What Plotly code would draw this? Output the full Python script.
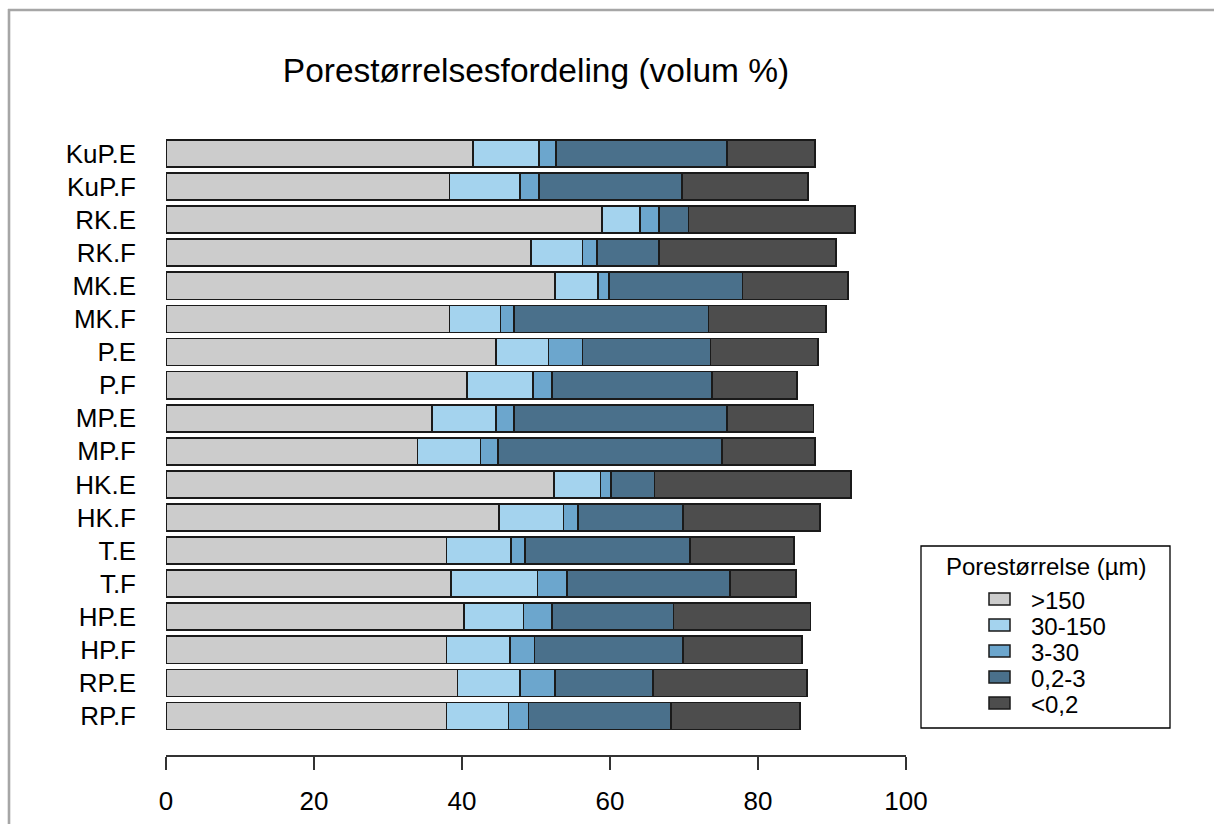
import plotly.graph_objects as go

# Sample plots, listed top to bottom
samples = ["KuP.E", "KuP.F", "RK.E", "RK.F", "MK.E", "MK.F", "P.E", "P.F", "MP.E",
           "MP.F", "HK.E", "HK.F", "T.E", "T.F", "HP.E", "HP.F", "RP.E", "RP.F"]

# Pore size classes (µm) and their fill colours
classes = [">150", "30-150", "3-30", "0,2-3", "<0,2"]
colors = ["#CCCCCC", "#A4D3EE", "#6CA6CD", "#4A708B", "#4D4D4D"]

# Volume % per pore size class
pore_gt150 = [41.5, 38.3, 58.9, 49.3, 52.6, 38.3, 44.6, 40.7, 35.9,
              34.0, 52.4, 45.0, 37.9, 38.5, 40.3, 37.9, 39.4, 37.9]
pore_30_150 = [8.9, 9.5, 5.2, 7.0, 5.8, 6.9, 7.1, 8.9, 8.7,
               8.5, 6.3, 8.7, 8.7, 11.7, 8.0, 8.6, 8.4, 8.4]
pore_3_30 = [2.3, 2.6, 2.5, 1.9, 1.5, 1.8, 4.6, 2.6, 2.4,
             2.4, 1.4, 2.0, 1.9, 4.0, 3.9, 3.3, 4.8, 2.7]
pore_02_3 = [23.1, 19.3, 4.0, 8.4, 18.0, 26.3, 17.3, 21.6, 28.8,
             30.2, 5.9, 14.2, 22.3, 22.0, 16.4, 20.1, 13.2, 19.2]
pore_lt02 = [11.9, 17.1, 22.5, 23.9, 14.3, 15.9, 14.5, 11.5, 11.7,
             12.6, 26.6, 18.5, 14.1, 8.9, 18.5, 16.0, 20.8, 17.5]

series = [pore_gt150, pore_30_150, pore_3_30, pore_02_3, pore_lt02]

x_ticks = [0, 20, 40, 60, 80, 100]

# Page geometry in pixels
W, H = 1214, 824
L, R, T, B = 166, 906, 120, 755


def px(xp):
    return (xp - L) / (R - L)


def py(yp):
    return (B - yp) / (B - T)


fig = go.Figure()
for name, vals, col in zip(classes, series, colors):
    fig.add_trace(go.Bar(
        y=samples, x=vals, name=name, orientation="h",
        marker=dict(color=col, line=dict(color="#1a1a1a", width=1.7)),
        showlegend=False,
    ))

shapes = []
annotations = []

# Legend box with title and swatches
shapes.append(dict(type="rect", xref="paper", yref="paper",
                   x0=px(921), x1=px(1170), y0=py(546), y1=py(728),
                   line=dict(color="#000000", width=1.3), fillcolor="white"))
annotations.append(dict(text="Porestørrelse (µm)", xref="paper", yref="paper",
                        x=px(1046), y=py(566), xanchor="center", yanchor="middle",
                        showarrow=False, font=dict(size=24, color="#000")))
for i, (name, col) in enumerate(zip(classes, colors)):
    yc = 599 + 26 * i
    shapes.append(dict(type="rect", xref="paper", yref="paper",
                       x0=px(989), x1=px(1010), y0=py(yc - 6), y1=py(yc + 6),
                       line=dict(color="#1a1a1a", width=1.5), fillcolor=col))
    annotations.append(dict(text=name, xref="paper", yref="paper",
                            x=px(1029), y=py(yc + 1), xanchor="left", yanchor="middle",
                            showarrow=False, font=dict(size=24, color="#000")))

# Grey frame lines along the top and left edge of the page
shapes.append(dict(type="line", xref="paper", yref="paper",
                   x0=px(8), x1=px(W + 5), y0=py(10), y1=py(10),
                   line=dict(color="#A6A6A6", width=2.6)))
shapes.append(dict(type="line", xref="paper", yref="paper",
                   x0=px(9), x1=px(9), y0=py(9), y1=py(H + 5),
                   line=dict(color="#A6A6A6", width=2.6)))

# Row i sits at pixel 153.5 + 33.09*i
row0, step = 153.5, 33.09
y_top = (T - row0) / step
y_bot = (B - row0) / step

fig.update_layout(
    width=W, height=H,
    margin=dict(l=L, r=W - R, t=T, b=H - B, autoexpand=False),
    barmode="stack", bargap=0.18,
    paper_bgcolor="white", plot_bgcolor="white",
    font=dict(family="Liberation Sans, Arial, sans-serif", size=24, color="#000"),
    title=dict(text="Porestørrelsesfordeling (volum %)", xref="paper", x=0.5,
               xanchor="center", yref="container", y=1 - 70 / H, yanchor="middle",
               font=dict(size=33.5, color="#000")),
    xaxis=dict(range=[0, 100], tickvals=x_ticks, ticktext=[str(v) for v in x_ticks],
               showgrid=False, zeroline=False, showline=True, linecolor="#333",
               linewidth=1.5, ticks="outside", ticklen=13, tickwidth=1.5,
               tickcolor="#333", ticklabelstandoff=9, tickfont=dict(size=26)),
    yaxis=dict(type="category", categoryorder="array", categoryarray=samples,
               range=[y_bot, y_top], showgrid=False, zeroline=False,
               showline=False, ticks="", ticklabelstandoff=29,
               tickfont=dict(size=26)),
    shapes=shapes, annotations=annotations,
)

fig.write_html("out.html")
